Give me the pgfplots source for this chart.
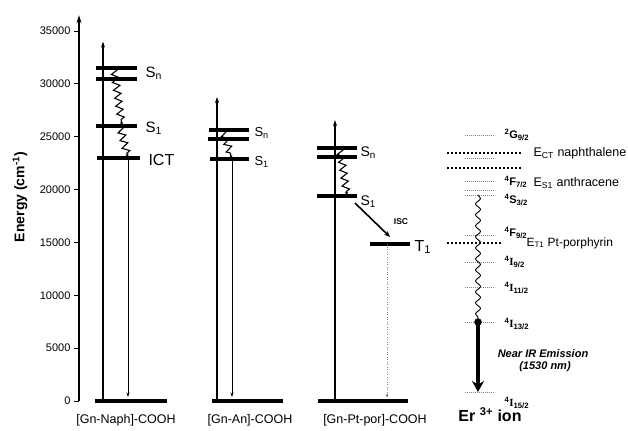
\documentclass[border=0pt]{standalone}
\usepackage{fontspec}
\setmainfont{Liberation Sans}
\newfontfamily\serifI{Liberation Serif}
\usepackage{pgfplots}
\pgfplotsset{compat=1.18}
\usetikzlibrary{arrows.meta,decorations.pathmorphing}
\newcommand{\fs}[1]{\fontsize{#1}{#1}\selectfont}
\newcommand{\erl}[3]{\textsuperscript{#1}#2\textsubscript{#3}}
\begin{document}
\begin{tikzpicture}
\begin{axis}[
 x=1pt, y=0.01057pt,
 xmin=79, xmax=628, ymin=0, ymax=36500,
 axis x line=none, axis y line=left,
 y axis line style={line width=2.2pt, -{Stealth[length=8pt,width=5pt]}},
 ytick={0,5000,...,35000},
 tick align=outside, major tick length=5pt,
 tick style={line width=1pt, black},
 /pgf/number format/assume math mode=true,
 /pgf/number format/1000 sep={},
 yticklabel style={font=\fs{11}},
 scaled y ticks=false,
 clip=false,
 lev/.style={line width=3.5pt},
 gnd/.style={line width=4pt},
 up/.style={line width=1.6pt, -{Stealth[length=6pt,width=4pt]}},
 down/.style={line width=0.9pt, -{Stealth[length=5pt,width=3pt]}},
 wavy/.style={line width=1.1pt, decorate, decoration={zigzag, amplitude=3.5pt, segment length=8pt, post length=3pt}, -{Stealth[length=4pt,width=3pt]}},
 erlev/.style={gray, line width=0.6pt, dash pattern=on 0.8pt off 1.2pt},
 donor/.style={line width=1.8pt, dash pattern=on 1.6pt off 2.4pt},
]
% ---------- [Gn-Naph]-COOH ----------
\addplot[gnd] coordinates {(95,0)(167,0)};
\addplot[up] coordinates {(103,0)(103,34000)};
\addplot[lev] coordinates {(96,31500)(137,31500)};
\addplot[lev] coordinates {(96,30460)(137,30460)};
\addplot[lev] coordinates {(96,26000)(137,26000)};
\addplot[lev] coordinates {(97,23000)(140,23000)};
\addplot[wavy] coordinates {(114,31500)(122,26000)};
\addplot[wavy] coordinates {(120,26000)(128,23000)};
\addplot[down] coordinates {(128,23000)(128,350)};
\node[anchor=west, font=\fs{15}] at (axis cs:142,31030) {S\textsubscript{n}};
\node[anchor=west, font=\fs{15}] at (axis cs:142,25830) {S\textsubscript{1}};
\node[anchor=west, font=\fs{16}] at (axis cs:145,22800) {ICT};
% ---------- [Gn-An]-COOH ----------
\addplot[gnd] coordinates {(212,0)(283,0)};
\addplot[up] coordinates {(217,0)(217,28760)};
\addplot[lev] coordinates {(209,25640)(249,25640)};
\addplot[lev] coordinates {(208,24790)(249,24790)};
\addplot[lev] coordinates {(210,22900)(249,22900)};
\addplot[wavy] coordinates {(223,25640)(232,22900)};
\addplot[down] coordinates {(232,22900)(232,350)};
\node[anchor=west, font=\fs{13}] at (axis cs:251,25350) {S\textsubscript{n}};
\node[anchor=west, font=\fs{13}] at (axis cs:251,22610) {S\textsubscript{1}};
% ---------- [Gn-Pt-por]-COOH ----------
\addplot[gnd] coordinates {(318,0)(408,0)};
\addplot[up] coordinates {(335,0)(335,26580)};
\addplot[lev] coordinates {(317,23940)(357,23940)};
\addplot[lev] coordinates {(317,23080)(357,23080)};
\addplot[lev] coordinates {(317,19400)(357,19400)};
\addplot[lev] coordinates {(370,14850)(410,14850)};
\addplot[wavy] coordinates {(340,23940)(347,19400)};
\addplot[line width=1.6pt, -{Stealth[length=6pt,width=5pt]}] coordinates {(355,18730)(390,15520)};
\addplot[gray, line width=0.7pt, dash pattern=on 1pt off 1.5pt, -{Stealth[length=4pt,width=3pt]}] coordinates {(387,14850)(387,300)};
\node[anchor=west, font=\fs{14}] at (axis cs:357,23460) {S\textsubscript{n}};
\node[anchor=west, font=\fs{14}] at (axis cs:357,18830) {S\textsubscript{1}};
\node[font=\bfseries\fs{8.5}] at (axis cs:401,16930) {ISC};
\node[anchor=west, font=\fs{16}] at (axis cs:411,14570) {T\textsubscript{1}};
% ---------- Er3+ ----------
\addplot[erlev] coordinates {(465,25170)(495,25170)};
\addplot[erlev] coordinates {(465,23000)(495,23000)};
\addplot[erlev] coordinates {(465,20810)(495,20810)};
\addplot[erlev] coordinates {(465,19960)(495,19960)};
\addplot[erlev] coordinates {(465,19490)(495,19490)};
\addplot[erlev] coordinates {(465,15700)(495,15700)};
\addplot[erlev] coordinates {(465,13150)(495,13150)};
\addplot[erlev] coordinates {(465,10780)(495,10780)};
\addplot[erlev] coordinates {(465,7470)(495,7470)};
\addplot[erlev] coordinates {(465,850)(495,850)};
\addplot[donor] coordinates {(447,23460)(522,23460)};
\addplot[donor] coordinates {(447,22040)(522,22040)};
\addplot[donor] coordinates {(447,14950)(502,14950)};
\addplot[line width=0.9pt, decorate, decoration={snake, amplitude=2.5pt, segment length=11pt}] coordinates {(478,19490)(478,7470)};
\addplot[line width=4pt, -{Stealth[length=11pt,width=12pt]}] coordinates {(478,7470)(478,850)};
\addplot[only marks, mark=*, mark size=3.5pt, black] coordinates {(478,7470)};
\node[anchor=west, font=\bfseries\fs{11}] at (axis cs:501,25170) {\erl{2}{G}{9/2}};
\node[anchor=west, font=\bfseries\fs{11}] at (axis cs:501,20720) {\erl{4}{F}{7/2}};
\node[anchor=west, font=\bfseries\fs{11}] at (axis cs:501,19000) {\erl{4}{S}{3/2}};
\node[anchor=west, font=\bfseries\fs{11}] at (axis cs:501,15900) {\erl{4}{F}{9/2}};
\node[anchor=west, font=\bfseries\fs{11}] at (axis cs:501,13150) {\erl{4}{{\serifI I}}{9/2}};
\node[anchor=west, font=\bfseries\fs{11}] at (axis cs:501,10700) {\erl{4}{{\serifI I}}{11/2}};
\node[anchor=west, font=\bfseries\fs{11}] at (axis cs:501,7300) {\erl{4}{{\serifI I}}{13/2}};
\node[anchor=west, font=\bfseries\fs{11}] at (axis cs:501,-190) {\erl{4}{{\serifI I}}{15/2}};
\node[anchor=west, font=\fs{12.5}] at (axis cs:530,23460) {E\textsubscript{CT} naphthalene};
\node[anchor=west, font=\fs{12.5}] at (axis cs:530,20620) {E\textsubscript{S1} anthracene};
\node[anchor=west, font=\fs{12}] at (axis cs:523,14950) {E\textsubscript{T1} Pt-porphyrin};
\node[font=\bfseries\itshape\fs{11}] at (axis cs:543,4450) {Near IR Emission};
\node[font=\bfseries\itshape\fs{11}] at (axis cs:545,3220) {(1530 nm)};
\node[font=\bfseries\fs{16}] at (axis cs:490,-1320) {Er \textsuperscript{3+} ion};
% ---------- category labels and axis title ----------
\node[font=\fs{12.5}] at (axis cs:126,-1800) {[Gn-Naph]-COOH};
\node[font=\fs{12.5}] at (axis cs:250,-1800) {[Gn-An]-COOH};
\node[font=\fs{12.5}] at (axis cs:375,-1800) {[Gn-Pt-por]-COOH};
\node[rotate=90, font=\bfseries\fs{14}] at (axis cs:20,19300) {Energy (cm\textsuperscript{-1})};
\coordinate (bl) at (axis cs:0,-2744);
\coordinate (tr) at (axis cs:628,37938);
\end{axis}
\pgfresetboundingbox
\path (bl) rectangle (tr);
\end{tikzpicture}
\end{document}
